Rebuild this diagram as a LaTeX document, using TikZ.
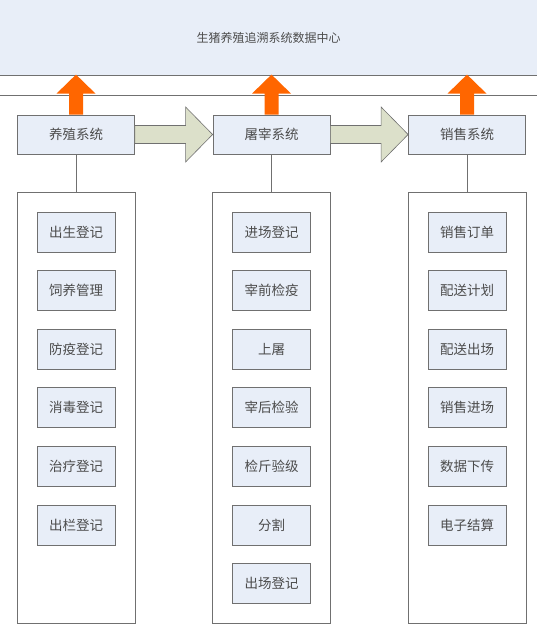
\documentclass[tikz,border=0pt]{standalone}
\usepackage{fontspec}
\setmainfont{Noto Sans CJK SC}
\usepackage{tikz}
\usetikzlibrary{calc}
\definecolor{boxblue}{HTML}{E8EEF8}
\definecolor{lineg}{HTML}{707070}
\definecolor{uporange}{HTML}{FF6600}
\definecolor{flowgreen}{HTML}{DCE0CA}
\tikzset{
  sysbox/.style={draw=lineg,line width=0.8pt,fill=boxblue,minimum width=117pt,minimum height=39pt,inner sep=0pt,text=black!70,font=\fontsize{13.5}{14}\selectfont},
  groupbox/.style={draw=lineg,line width=0.8pt,minimum width=118pt,minimum height=431pt,inner sep=0pt},
  itembox/.style={draw=lineg,line width=0.8pt,fill=boxblue,minimum width=78pt,minimum height=40pt,inner sep=0pt,text=black!70,font=\fontsize{13.5}{14}\selectfont},
  uparrow/.style={fill=uporange},
  flowarrow/.style={draw=lineg,line width=0.6pt,fill=flowgreen},
  link/.style={draw=lineg,line width=0.8pt}
}
\begin{document}
\begin{tikzpicture}[x=1pt,y=-1pt]
\useasboundingbox (0,0) rectangle (537,636);
\node[fill=boxblue,minimum width=537pt,minimum height=75pt,inner sep=0pt,text=black!70,font=\fontsize{12}{13}\selectfont] (dc) at (268.5,37.5) {生猪养殖追溯系统数据中心};
\draw[link] (dc.south west) -- (dc.south east);
\draw[link] (0,95) -- (537,95);
\node[sysbox] (yz) at (76,134.5) {养殖系统};
\node[sysbox] (tz) at (271.5,134.5) {屠宰系统};
\node[sysbox] (xs) at (467,134.5) {销售系统};
\foreach \s in {yz,tz,xs}
  \fill[uparrow] ($(\s.north)+(-7,0)$) -- ++(0,-21) -- ++(-12.5,0) -- ($(\s.north)+(0,-40)$) -- ($(\s.north)+(19.5,-21)$) -- ++(-12.5,0) -- ($(\s.north)+(7,0)$) -- cycle;
\draw[flowarrow] ($(yz.east)+(0,-9)$) -- ($(tz.west)+(-27,-9)$) -- ($(tz.west)+(-27,-27.5)$) -- (tz.west) -- ($(tz.west)+(-27,27.5)$) -- ($(tz.west)+(-27,9)$) -- ($(yz.east)+(0,9)$) -- cycle;
\draw[flowarrow] ($(tz.east)+(0,-9)$) -- ($(xs.west)+(-27,-9)$) -- ($(xs.west)+(-27,-27.5)$) -- (xs.west) -- ($(xs.west)+(-27,27.5)$) -- ($(xs.west)+(-27,9)$) -- ($(tz.east)+(0,9)$) -- cycle;
\node[groupbox] (yzg) at (76,407.5) {};
\node[groupbox] (tzg) at (271.5,407.5) {};
\node[groupbox] (xsg) at (467,407.5) {};
\draw[link] (yz.south) -- (yzg.north);
\draw[link] (tz.south) -- (tzg.north);
\draw[link] (xs.south) -- (xsg.north);
\node[itembox] (yz1) at (76,232) {出生登记};
\node[itembox] (yz2) at (76,290.6) {饲养管理};
\node[itembox] (yz3) at (76,349.2) {防疫登记};
\node[itembox] (yz4) at (76,407.8) {消毒登记};
\node[itembox] (yz5) at (76,466.4) {治疗登记};
\node[itembox] (yz6) at (76,525) {出栏登记};
\node[itembox] (tz1) at (271.5,232) {进场登记};
\node[itembox] (tz2) at (271.5,290.6) {宰前检疫};
\node[itembox] (tz3) at (271.5,349.2) {上屠};
\node[itembox] (tz4) at (271.5,407.8) {宰后检验};
\node[itembox] (tz5) at (271.5,466.4) {检斤验级};
\node[itembox] (tz6) at (271.5,525) {分割};
\node[itembox] (tz7) at (271.5,583.6) {出场登记};
\node[itembox] (xs1) at (467,232) {销售订单};
\node[itembox] (xs2) at (467,290.6) {配送计划};
\node[itembox] (xs3) at (467,349.2) {配送出场};
\node[itembox] (xs4) at (467,407.8) {销售进场};
\node[itembox] (xs5) at (467,466.4) {数据下传};
\node[itembox] (xs6) at (467,525) {电子结算};
\end{tikzpicture}
\end{document}
